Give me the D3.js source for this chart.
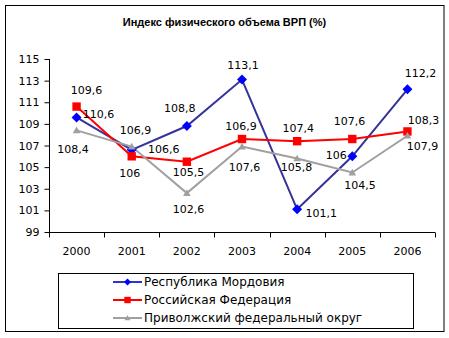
<!DOCTYPE html>
<html><head><meta charset="utf-8">
<script src="https://cdn.jsdelivr.net/npm/d3@7"></script>
<style>body{margin:0;background:#fff}svg{display:block}text{font-family:"DejaVu Sans",sans-serif}</style>
</head><body><svg id="c" width="449" height="338"></svg>
<script>
const years = ["2000","2001","2002","2003","2004","2005","2006"];
const mordovia = [109.6,106.6,108.8,113.1,101.1,106.0,112.2];
const russia   = [110.6,106.0,105.5,107.6,107.4,107.6,108.3];
const volga    = [108.4,106.9,102.6,106.9,105.8,104.5,107.9];
const yTicks = [99,101,103,105,107,109,111,113,115];
const seriesNames = ["Республика Мордовия","Российская Федерация","Приволжский федеральный округ"];
const titleText = "Индекс физического объема ВРП (%)";

// label placement (style)
const labelOffsets = [
  [[10,-23],[32,3],[-7,-14],[1,-10.5],[24,7.7],[-16,2.7],[13,-12.3]],
  [[22,11],[-2,20.7],[1.6,14.3],[2.5,32],[1,-9.2],[-2.8,-14],[16,-7.4]],
  [[-3.6,22.6],[3.8,-12.6],[1.6,20],[-1,-16.6],[-0.6,12.5],[7.7,16.5],[15,14.2]]
];
// marker shapes: r = half-size in px
const diamond = r => `M0,${-r}L${r},0L0,${r}L${-r},0Z`;
const square = r => `M${-r},${-r}H${r}V${r}H${-r}Z`;
const triangle = r => `M0,${-r}L${r},${r*0.75}H${-r}Z`;
const styles = [
  {line:"#333399", legLine:"#3333cc", fill:"#0000ff", shape:diamond, r:5, lr:3.5},
  {line:"#ff0000", legLine:"#ff0000", fill:"#ff0000", shape:square, r:4.2, lr:3.2},
  {line:"#a0a0a0", legLine:"#a0a0a0", fill:"#a0a0a0", shape:triangle, r:3.8, lr:3}
];
const data = [mordovia, russia, volga];

const svg = d3.select("#c");
svg.append("rect").attr("x",5.5).attr("y",5.5).attr("width",438.5).attr("height",326)
  .attr("fill","#fff").attr("stroke","#000").attr("stroke-width",1);

svg.append("text").attr("x",224.5).attr("y",25.5).attr("text-anchor","middle")
  .style("font-family","'Liberation Sans',Arial,sans-serif").style("font-weight","bold").style("font-size","11px")
  .text(titleText);

const x = d3.scaleBand().domain(years).range([49,435]).padding(0);
const y = d3.scaleLinear().domain([99,115]).range([232,59]);

// y axis
const ya = svg.append("g").attr("transform","translate(49.5,0)")
  .call(d3.axisLeft(y).tickValues(yTicks).tickSize(5).tickPadding(5));
ya.select(".domain").attr("d",`M0,${y(115)}V${y(99)}`);
ya.selectAll("text").style("font-size","11px").style("font-family","'DejaVu Sans',sans-serif").attr("fill","#000");
ya.selectAll("line").attr("stroke","#000");

// x axis
const xa = svg.append("g").attr("transform","translate(0,232.5)")
  .call(d3.axisBottom(x).tickSize(0).tickPadding(15));
xa.select(".domain").attr("d",`M49,0H435`).attr("stroke","#000");
xa.selectAll("text").style("font-size","11px").style("font-family","'DejaVu Sans',sans-serif").attr("fill","#000");
const edges = years.map(d=>x(d)).concat([x(years[years.length-1])+x.bandwidth()]);
xa.selectAll(".edge").data(edges).enter().append("line")
  .attr("x1",d=>Math.round(d)+0.5).attr("x2",d=>Math.round(d)+0.5).attr("y1",0).attr("y2",5).attr("stroke","#000");

const cx = d=>x(d)+x.bandwidth()/2;
const fmt = v => (Math.round(v*10)%10===0 ? String(Math.round(v)) : v.toFixed(1).replace(".",","));

data.forEach((vals,si)=>{
  const st = styles[si];
  const line = d3.line().x((v,i)=>cx(years[i])).y(v=>y(v));
  svg.append("path").datum(vals).attr("d",line).attr("fill","none").attr("stroke",st.line).attr("stroke-width",2);
});
data.forEach((vals,si)=>{
  const st = styles[si];
  svg.selectAll(null).data(vals).enter().append("path")
    .attr("d",st.shape(st.r))
    .attr("transform",(v,i)=>`translate(${cx(years[i])},${y(v)})`)
    .attr("fill",st.fill);
});
data.forEach((vals,si)=>{
  svg.selectAll(null).data(vals).enter().append("text")
    .attr("x",(v,i)=>cx(years[i])+labelOffsets[si][i][0])
    .attr("y",(v,i)=>y(v)+labelOffsets[si][i][1])
    .attr("text-anchor","middle").style("font-size","11px").attr("fill","#000")
    .text(v=>fmt(v));
});

// legend
const lg = svg.append("g");
lg.append("rect").attr("x",58.5).attr("y",273.5).attr("width",355).attr("height",55)
  .attr("fill","#fff").attr("stroke","#000");
seriesNames.forEach((n,i)=>{
  const yy = 282 + i*18;
  const st = styles[i];
  lg.append("line").attr("x1",113).attr("x2",142).attr("y1",yy).attr("y2",yy).attr("stroke",st.legLine).attr("stroke-width",2);
  lg.append("path").attr("d",st.shape(st.lr)).attr("transform",`translate(127.5,${yy})`).attr("fill",st.fill);
  lg.append("text").attr("x",144).attr("y",yy+4).style("font-size","12px").attr("fill","#000").text(n);
});
</script></body></html>
